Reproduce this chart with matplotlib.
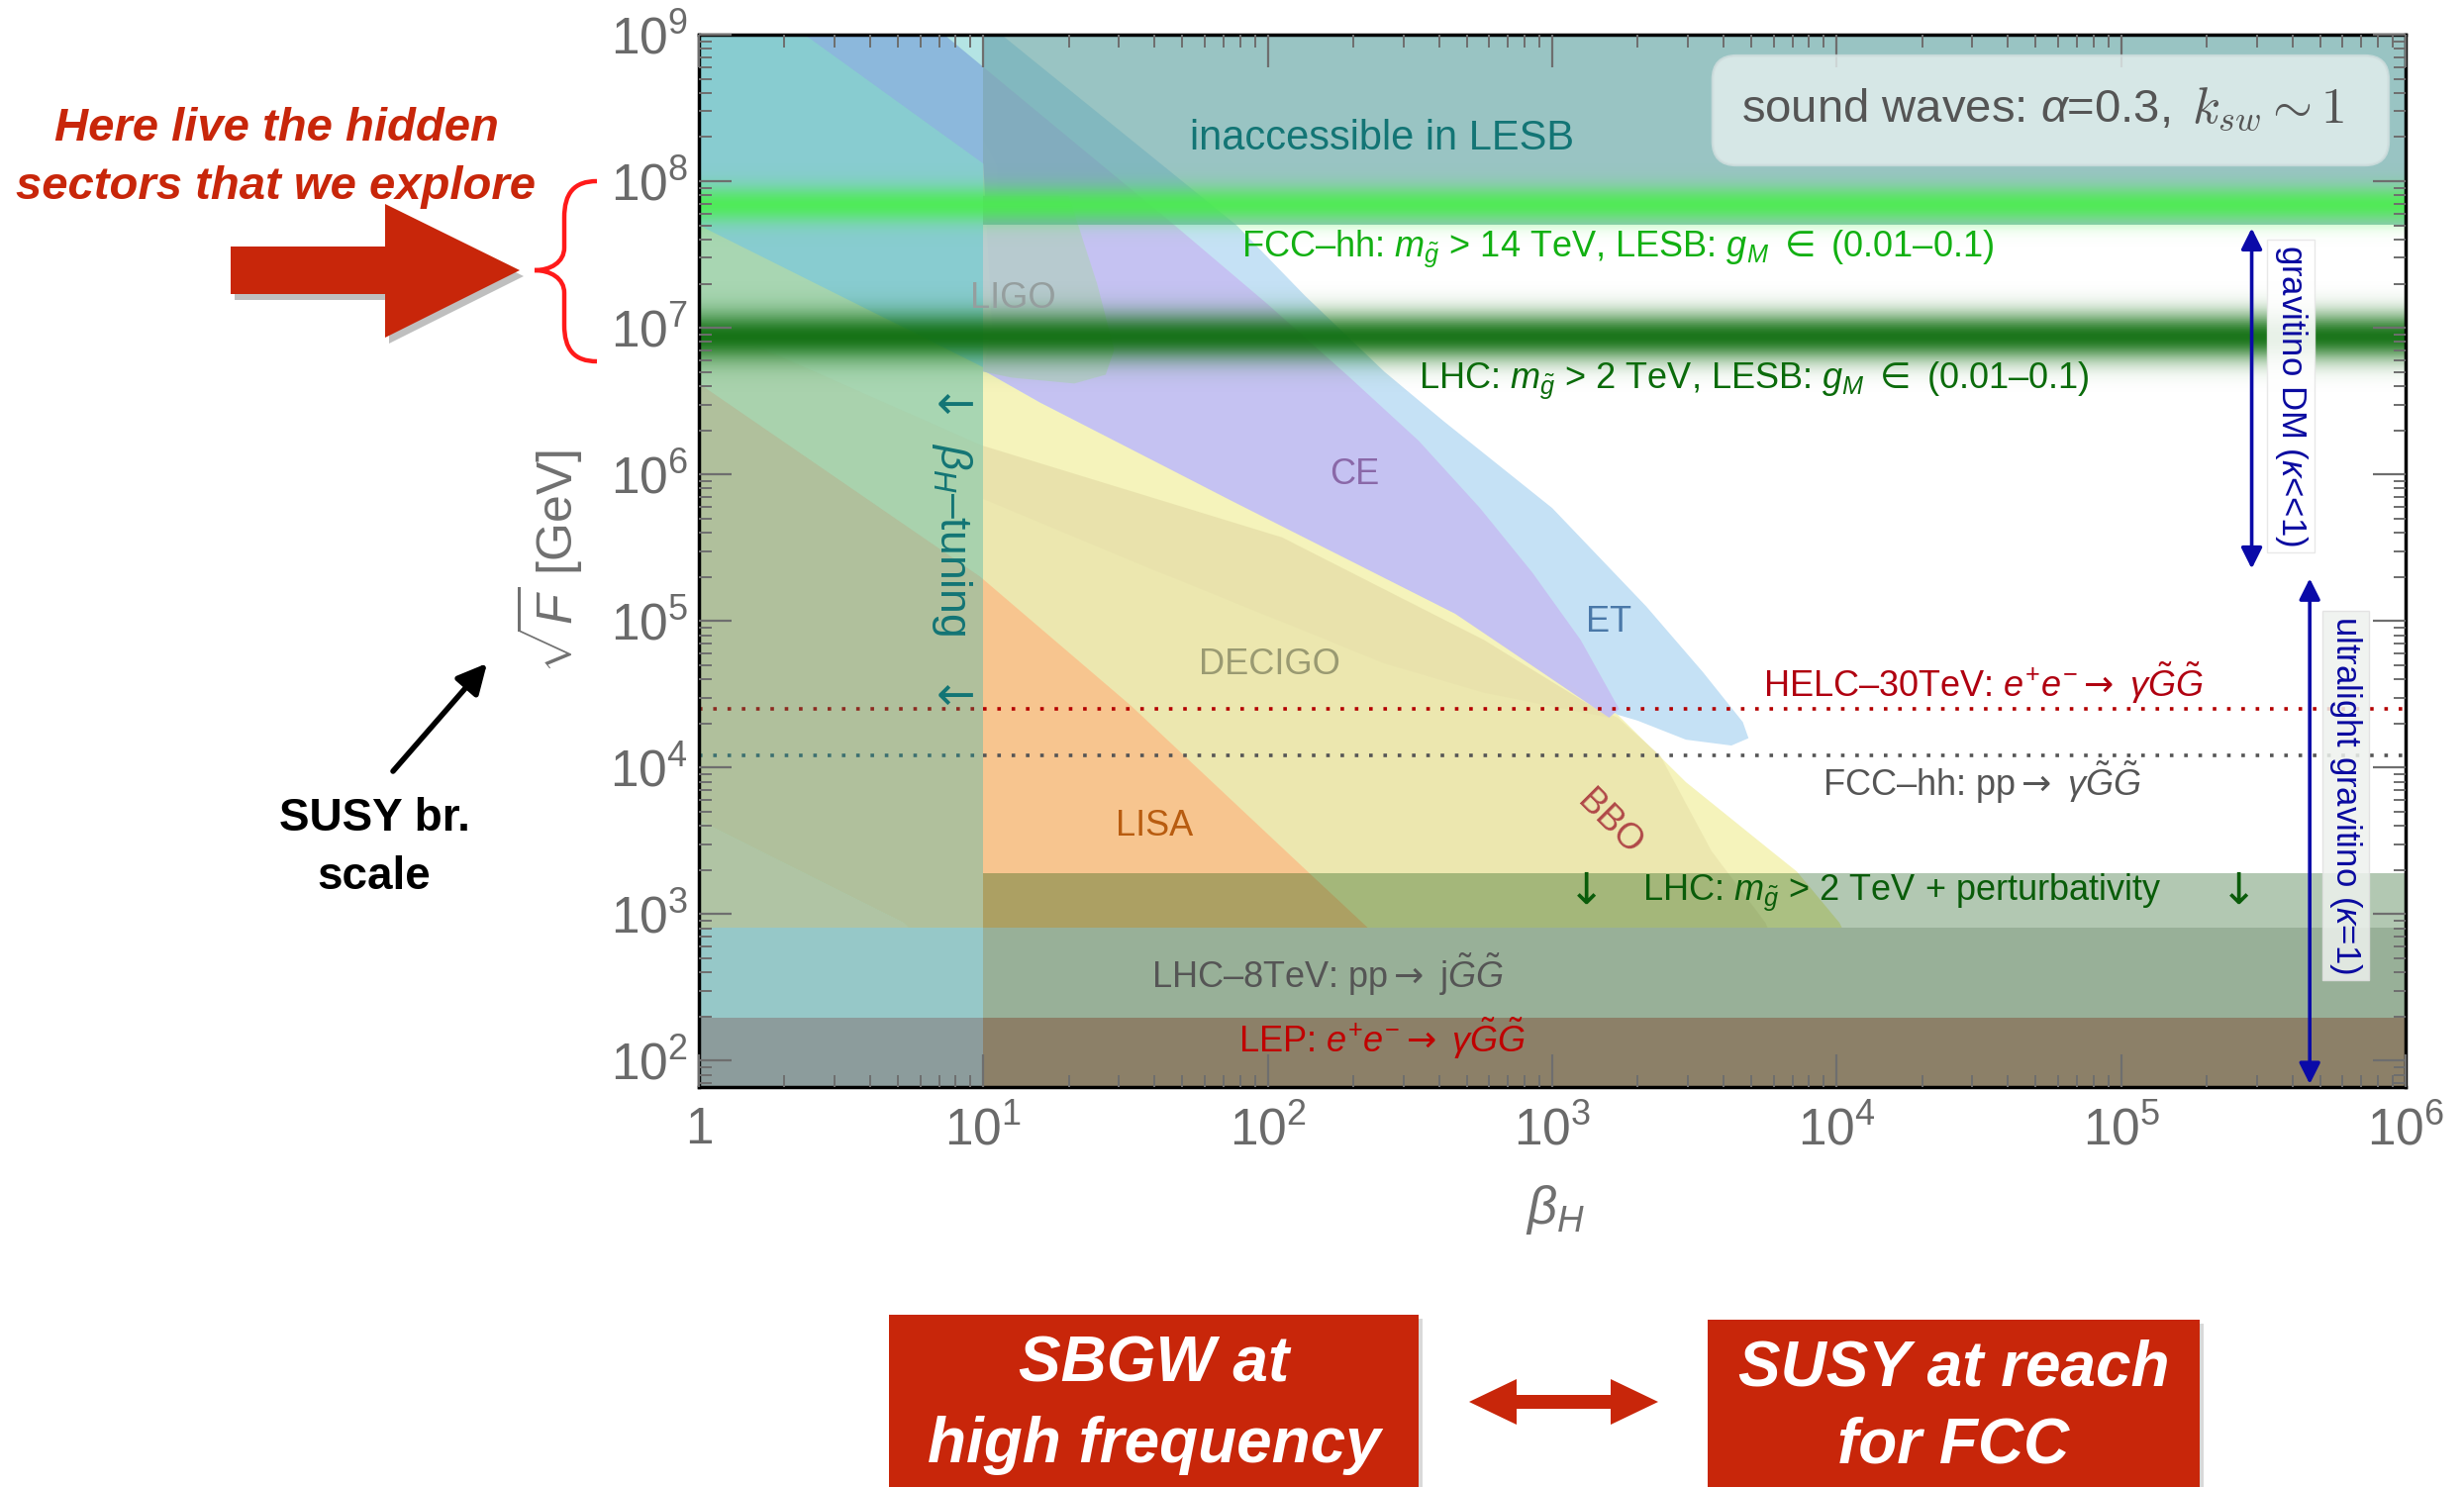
import numpy as np
import matplotlib
matplotlib.use("Agg")
import matplotlib.pyplot as plt
from matplotlib.patches import Polygon, FancyBboxPatch, PathPatch, Rectangle, FancyArrowPatch
from matplotlib.path import Path
from matplotlib.colors import LinearSegmentedColormap, to_rgb
from matplotlib.ticker import FixedLocator, FixedFormatter, LogLocator, NullFormatter

plt.rcParams['font.family'] = ['Liberation Sans', 'DejaVu Sans']
plt.rcParams['mathtext.fontset'] = 'custom'
plt.rcParams['mathtext.rm'] = 'Liberation Sans'
plt.rcParams['mathtext.it'] = 'Liberation Sans:italic'
plt.rcParams['mathtext.bf'] = 'Liberation Sans:bold'
plt.rcParams['mathtext.sf'] = 'DejaVu Sans'
plt.rcParams['axes.unicode_minus'] = False

# ---------------- data ----------------
x_lim = [1.0, 1.0e6]
y_lim = [10 ** 1.82, 1.0e9]
x_ticks = [1, 1e1, 1e2, 1e3, 1e4, 1e5, 1e6]
x_tick_labels = ["1", "$10^{1}$", "$10^{2}$", "$10^{3}$", "$10^{4}$", "$10^{5}$", "$10^{6}$"]
y_ticks = [1e2, 1e3, 1e4, 1e5, 1e6, 1e7, 1e8, 1e9]
y_tick_labels = ["$10^{2}$", "$10^{3}$", "$10^{4}$", "$10^{5}$",
                 "$10^{6}$", "$10^{7}$", "$10^{8}$", "$10^{9}$"]

# detector sensitivity regions, as log10(beta_H), log10(sqrt F / GeV)
bbo_lx = [0.0, 1.0, 1.2, 1.88, 2.66, 3.23, 3.47, 3.77, 3.86, 4.01, 4.3, 0.0]
bbo_ly = [7.70, 6.73, 6.51, 5.84, 5.07, 4.36, 3.90, 3.43, 3.29, 2.94, 1.8, 1.8]
decigo_lx = [0.0, 0.99, 2.05, 2.76, 3.12, 3.23, 3.38, 3.56, 3.75, 4.0, 0.0]
decigo_ly = [7.05, 6.20, 5.57, 4.87, 4.44, 4.34, 4.08, 3.43, 2.94, 1.8, 1.8]
decigo_edge_lx = [0.0, 0.99, 2.05, 2.76, 3.12, 3.2, 2.76, 2.41, 1.52, 0.99, 0.0]
decigo_edge_ly = [7.05, 6.20, 5.57, 4.87, 4.44, 4.34, 4.51, 4.71, 5.41, 5.84, 6.75]
lisa_lx = [0.0, 0.99, 1.52, 2.14, 2.35, 2.6, 1.3, 0.72, 0.0]
lisa_ly = [6.62, 5.30, 4.42, 3.29, 2.91, 1.8, 1.8, 2.94, 3.64]
et_lx = [0.78, 1.0, 1.89, 2.13, 2.41, 2.62, 3.0, 3.33, 3.53, 3.67, 3.69, 3.63, 3.47, 3.30, 3.23,
         2.66, 1.88, 1.2, 1.0, 1.05, 1.05]
et_ly = [9.1, 9.1, 7.70, 7.22, 6.70, 6.36, 5.77, 5.10, 4.65, 4.31, 4.20, 4.15, 4.19, 4.32, 4.36,
         5.05, 5.82, 6.49, 6.71, 6.9, 8.1]
ce_lx = [0.30, 0.80, 1.666, 2.0, 2.283, 2.53, 2.746, 2.93, 3.1, 3.235, 3.2, 2.658, 1.877, 1.2, 1.0, 1.03, 1.0]
ce_ly = [9.1, 9.1, 7.71, 7.16, 6.67, 6.23, 5.77, 5.33, 4.87, 4.40, 4.34, 5.05, 5.815, 6.49, 6.71, 7.0, 8.12]
ligo_lx = [0.85, 1.30, 1.40, 1.46, 1.43, 1.32, 1.10, 0.95, 0.85]
ligo_ly = [7.9, 7.9, 7.3, 6.85, 6.68, 6.62, 6.66, 6.72, 7.2]

# collider bounds / bands (GeV)
lep_top = 10 ** 2.29
lhc8_top = 10 ** 2.91
lhc_pert_top = 10 ** 3.28
inaccessible_bottom = 10 ** 7.70
fcc_band_center, fcc_band_width = 7.84, 0.12      # log10
lhc_band_center, lhc_band_width = 6.94, 0.16      # log10
helc_y = 10 ** 4.40
fcchh_y = 10 ** 4.08
beta_tuning_max = 10.0
gravitino_dm_x, gravitino_dm_y = 10 ** 5.459, [10 ** 5.356, 10 ** 7.68]
ultralight_x, ultralight_y = 10 ** 5.663, [10 ** 1.84, 10 ** 5.29]

# ---------------- figure ----------------
W, H = 2489, 1502
fig = plt.figure(figsize=(W / 100, H / 100), dpi=100)
ax = fig.add_axes([706 / W, 1 - 1098 / H, (2430 - 706) / W, (1098 - 35) / H])
ax.set_xscale('log')
ax.set_yscale('log')
ax.set_xlim(x_lim)
ax.set_ylim(y_lim)


def P(v):
    return 10 ** np.asarray(v, dtype=float)


def region(lx, ly, color, alpha, z, clip=None):
    polys = ax.fill(P(lx), P(ly), facecolor=color, alpha=alpha, edgecolor='none', lw=0, zorder=z)
    if clip is not None:
        for p in polys:
            p.set_clip_path(clip)


# right-hand (beta_H > 10) appearance
region(bbo_lx, bbo_ly, '#f5f3bb', 1.0, 1.00)
region(decigo_lx, decigo_ly, '#e6dea6', 0.55, 1.01)
region(decigo_edge_lx, decigo_edge_ly, '#d8cc9c', 0.15, 1.02)
region(lisa_lx, lisa_ly, '#fac08a', 0.85, 1.03)
region(et_lx, et_ly, '#c5e1f5', 1.0, 1.04)
region(ce_lx, ce_ly, '#c5c1f2', 0.97, 1.05)
region(ligo_lx, ligo_ly, '#b7cbcd', 0.95, 1.06)

# inaccessible region (beta_H > 10)
ax.fill_between([beta_tuning_max, x_lim[1]], inaccessible_bottom, y_lim[1],
                color='#5aa09e', alpha=0.62, lw=0, zorder=2.0)

# beta_H tuning column (beta_H < 10)
left_rect = Rectangle((x_lim[0], y_lim[0]), beta_tuning_max - x_lim[0], y_lim[1] - y_lim[0],
                      transform=ax.transData, fc='#88ccd0', ec='none', lw=0, zorder=2.40)
ax.add_patch(left_rect)
clip_rect = Rectangle((x_lim[0], y_lim[0]), beta_tuning_max - x_lim[0], y_lim[1] - y_lim[0],
                      transform=ax.transData, fc='none', ec='none')
region(bbo_lx, bbo_ly, '#a8d6b2', 1.0, 2.41, clip_rect)
region(decigo_lx, decigo_ly, '#a9d2ad', 1.0, 2.42, clip_rect)
region(lisa_lx, lisa_ly, '#b0c09c', 1.0, 2.43, clip_rect)
region([0.0] + lisa_lx[6:], [1.8] + lisa_ly[6:], '#b0c4a4', 1.0, 2.43, clip_rect)
region(et_lx, et_ly, '#b4e4e4', 1.0, 2.44, clip_rect)
region(ce_lx, ce_ly, '#8cb8dc', 1.0, 2.45, clip_rect)

# dotted collider reach lines
dot = (0, (1, 3))
ax.axhline(helc_y, xmin=1 / 6, color='#b40000', lw=2.6, ls=dot, zorder=2.6)
ax.axhline(helc_y, xmax=1 / 6, color='#8c2a20', lw=2.6, ls=dot, zorder=2.6)
ax.axhline(fcchh_y, xmin=1 / 6, color='#555555', lw=2.6, ls=dot, zorder=2.6)
ax.axhline(fcchh_y, xmax=1 / 6, color='#3c7070', lw=2.6, ls=dot, zorder=2.6)


def gradient_band(center, width, color, peak, z):
    ly = np.linspace(center - 3 * width, center + 3 * width, 500)
    mids = 0.5 * (ly[:-1] + ly[1:])
    prof = np.exp(-((mids - center) / width) ** 2)
    rgb = to_rgb(color)
    cmap = LinearSegmentedColormap.from_list('b', [(*rgb, 0.0), (*rgb, peak)])
    ax.pcolormesh(x_lim, P(ly), prof[:, None], cmap=cmap, vmin=0, vmax=1,
                  shading='flat', antialiased=False, linewidth=0, zorder=z)


gradient_band(fcc_band_center, fcc_band_width, '#46f046', 0.85, 2.7)
gradient_band(lhc_band_center, lhc_band_width, '#0f6e0f', 0.95, 2.8)

# bottom collider bands
ax.fill_between([beta_tuning_max, x_lim[1]], y_lim[0], lep_top, color='#8c8068', lw=0, zorder=3)
ax.fill_between([x_lim[0], beta_tuning_max], y_lim[0], lep_top, color='#8c9c9c', lw=0, zorder=3)
ax.fill_between([beta_tuning_max, x_lim[1]], lep_top, lhc8_top, color='#98b098', lw=0, zorder=3)
ax.fill_between([x_lim[0], beta_tuning_max], lep_top, lhc8_top, color='#96c8c8', lw=0, zorder=3)
ax.fill_between([beta_tuning_max, x_lim[1]], lhc8_top, lhc_pert_top, color='#004b00', alpha=0.3, lw=0, zorder=3)

ax.set_xlim(x_lim)
ax.set_ylim(y_lim)

# ---------------- texts inside ----------------
fs = 26
ARR = r"$\mathsf{\rightarrow}$"


def T(lx, ly, s, color, **kw):
    kw.setdefault('fontsize', fs)
    kw.setdefault('ha', 'center')
    kw.setdefault('va', 'center')
    return ax.text(10 ** lx, 10 ** ly, s, color=color, zorder=7, **kw)


T(2.403, 8.29, "inaccessible in LESB", '#137575', fontsize=30)
T(1.906, 7.54, r"FCC–hh: $m_{\tilde{g}}$ > 14 TeV, LESB: $g_M$ $\mathsf{\in}$ (0.01–0.1)", '#12b012', ha='left')
T(2.530, 6.64, r"LHC: $m_{\tilde{g}}$ > 2 TeV, LESB: $g_M$ $\mathsf{\in}$ (0.01–0.1)", '#0b6b0b', ha='left')
T(1.105, 7.20, "LIGO", '#959e9e')
T(2.304, 6.00, "CE", '#8a68a8')
T(3.200, 4.99, "ET", '#4a78a8')
T(2.006, 4.70, "DECIGO", '#9a9a72')
T(1.602, 3.60, "LISA", '#b85c10')
T(3.200, 3.62, "BBO", '#b04848', rotation=-45)
T(3.740, 4.58, r"HELC–30TeV: $e^{+}e^{-}$" + ARR + r" $\gamma\tilde{G}\tilde{G}$", '#b00010', ha='left')
T(3.950, 3.90, r"FCC–hh: pp" + ARR + r" $\gamma\tilde{G}\tilde{G}$", '#555555', ha='left')
T(3.094, 3.15, r"$\mathsf{\downarrow}$", '#0a5c0a', fontsize=32)
T(5.387, 3.15, r"$\mathsf{\downarrow}$", '#0a5c0a', fontsize=32)
T(3.315, 3.15, r"LHC: $m_{\tilde{g}}$ > 2 TeV + perturbativity", '#0a5c0a', ha='left')
T(2.21, 2.59, r"LHC–8TeV: pp" + ARR + r" j$\tilde{G}\tilde{G}$", '#555555')
T(2.403, 2.15, r"LEP: $e^{+}e^{-}$" + ARR + r" $\gamma\tilde{G}\tilde{G}$", '#c00000')
T(0.89, 5.56, r"$\beta_H$–tuning", '#137575', rotation=270, fontsize=32)
T(0.89, 6.47, r"$\mathsf{\leftarrow}$", '#137575', fontsize=34)
T(0.89, 4.48, r"$\mathsf{\leftarrow}$", '#137575', fontsize=34)

T(5.597, 6.535, r"gravitino DM ($\kappa$<<1)", '#0a0aa0', rotation=270, fontsize=25,
  bbox=dict(boxstyle='square,pad=0.15', fc='white', ec='#e6e6e6', alpha=0.9))
T(5.79, 3.81, r"ultralight gravitino ($\kappa$=1)", '#0a0aa0', rotation=270, fontsize=25,
  bbox=dict(boxstyle='square,pad=0.15', fc='#eef2ee', ec='#e0e0e0', alpha=0.85))

arr_kw = dict(arrowstyle='<|-|>', color='#0a0aa8', lw=2.6, mutation_scale=32, shrinkA=0, shrinkB=0)
ax.annotate('', xy=(gravitino_dm_x, gravitino_dm_y[0]), xytext=(gravitino_dm_x, gravitino_dm_y[1]),
            arrowprops=arr_kw, zorder=7)
ax.annotate('', xy=(ultralight_x, ultralight_y[0]), xytext=(ultralight_x, ultralight_y[1]),
            arrowprops=arr_kw, zorder=7)

# legend-like box
aspect = (2430 - 706) / (1098 - 35)
box = FancyBboxPatch((0.594, 0.876), 0.396, 0.104, boxstyle='round,pad=0,rounding_size=0.014',
                     mutation_aspect=aspect, transform=ax.transAxes, fc='#e6f0f0', ec='#d0dede',
                     alpha=0.8, lw=2, zorder=6.5)
ax.add_patch(box)
ax.text(0.611, 0.9285, r"sound waves: $\alpha$=0.3,", transform=ax.transAxes,
        fontsize=34, color='#555555', ha='left', va='center', zorder=7)
ax.text(0.875, 0.9285, r"$k_{sw}\sim 1$", transform=ax.transAxes,
        fontsize=37, color='#555555', ha='left', va='center', math_fontfamily='cm', zorder=7)

# ---------------- ticks / axes ----------------
ax.xaxis.set_major_locator(FixedLocator(x_ticks))
ax.xaxis.set_major_formatter(FixedFormatter(x_tick_labels))
ax.yaxis.set_major_locator(FixedLocator(y_ticks))
ax.yaxis.set_major_formatter(FixedFormatter(y_tick_labels))
for a in (ax.xaxis, ax.yaxis):
    a.set_minor_locator(LogLocator(base=10, subs=np.arange(2, 10), numticks=100))
    a.set_minor_formatter(NullFormatter())
    a.set_zorder(6)
ax.tick_params(which='both', direction='in', top=True, right=True, color='#6e6e6e', labelcolor='#6a6a6a')
ax.tick_params(which='major', length=24, width=1.6, labelsize=37)
ax.tick_params(which='minor', length=9, width=1.4)
ax.tick_params(axis='x', which='major', pad=14)
ax.tick_params(axis='y', which='major', pad=8)
for s in ax.spines.values():
    s.set_linewidth(2.5)
    s.set_color('black')
    s.set_zorder(6)

ax.text(0.502, -0.117, r"$\beta_H$", transform=ax.transAxes, fontsize=38, color='#707070',
        ha='center', va='center')
ax.text(-0.088, 0.5, r"$\sqrt{F}$ [GeV]", transform=ax.transAxes, fontsize=36, color='#707070',
        ha='center', va='center', rotation=90)

# ---------------- figure-level annotations ----------------
def fxy(pts):
    return [(X / W, 1 - Y / H) for X, Y in pts]


red = '#c8260a'
fig.text(279 / W, 1 - 130 / H, "Here live the hidden", color=red, fontsize=34,
         fontweight='bold', fontstyle='italic', ha='center', va='center')
fig.text(279 / W, 1 - 189 / H, "sectors that we explore", color=red, fontsize=34,
         fontweight='bold', fontstyle='italic', ha='center', va='center')

fat_arrow = [(233, 249), (389, 249), (389, 206), (525, 273), (389, 341), (389, 297), (233, 297)]
fig.patches.append(Polygon(fxy([(X + 4, Y + 6) for X, Y in fat_arrow]), closed=True,
                           transform=fig.transFigure, fc='#000000', alpha=0.25, ec='none', zorder=1))
fig.patches.append(Polygon(fxy(fat_arrow), closed=True, transform=fig.transFigure,
                           fc=red, ec='none', zorder=2))

brace_pts = [(603, 183), (580, 183), (570, 195), (570, 220),
             (570, 250),
             (570, 265), (556, 273), (540, 273),
             (556, 273), (570, 281), (570, 296),
             (570, 328),
             (570, 353), (580, 365), (603, 365)]
brace_codes = [Path.MOVETO, Path.CURVE4, Path.CURVE4, Path.CURVE4,
               Path.LINETO,
               Path.CURVE4, Path.CURVE4, Path.CURVE4,
               Path.CURVE4, Path.CURVE4, Path.CURVE4,
               Path.LINETO,
               Path.CURVE4, Path.CURVE4, Path.CURVE4]
fig.patches.append(PathPatch(Path(fxy(brace_pts), brace_codes), transform=fig.transFigure,
                             fc='none', ec='#ff1a1a', lw=3.2, zorder=2))

fig.text(378 / W, 1 - 827 / H, "SUSY br.", color='black', fontsize=33, fontweight='bold',
         ha='center', va='center')
fig.text(378 / W, 1 - 886 / H, "scale", color='black', fontsize=33, fontweight='bold',
         ha='center', va='center')
fig.patches.append(FancyArrowPatch((397 / W, 1 - 779 / H), (492 / W, 1 - 670 / H),
                                   transform=fig.transFigure, arrowstyle='-|>', mutation_scale=45,
                                   color='black', lw=4, shrinkA=0, shrinkB=0, zorder=2))

for (x0, x1, y0), lines in [((898, 1433, 1328), [("SBGW at", 1378), ("high frequency", 1460)]),
                            ((1725, 2222, 1333), [("SUSY at reach", 1383), ("for FCC", 1460)])]:
    fig.patches.append(Rectangle(((x0 + 4) / W, 0), (x1 - x0) / W, 1 - (y0 + 4) / H,
                                 transform=fig.transFigure, fc='#000000', alpha=0.15, ec='none', zorder=1))
    fig.patches.append(Rectangle((x0 / W, 0), (x1 - x0) / W, 1 - y0 / H,
                                 transform=fig.transFigure, fc=red, ec='none', zorder=2))
    for s, yy in lines:
        fig.text((x0 + x1) / 2 / W, 1 - yy / H, s, color='white', fontsize=46, fontweight='bold',
                 fontstyle='italic', ha='center', va='center', zorder=3)

dbl = [(1484, 1416), (1532, 1393), (1532, 1409), (1627, 1409), (1627, 1393), (1675, 1416),
       (1627, 1439), (1627, 1423), (1532, 1423), (1532, 1439)]
fig.patches.append(Polygon(fxy(dbl), closed=True, transform=fig.transFigure, fc=red, ec='none', zorder=2))

fig.savefig("out.png", dpi=100)
